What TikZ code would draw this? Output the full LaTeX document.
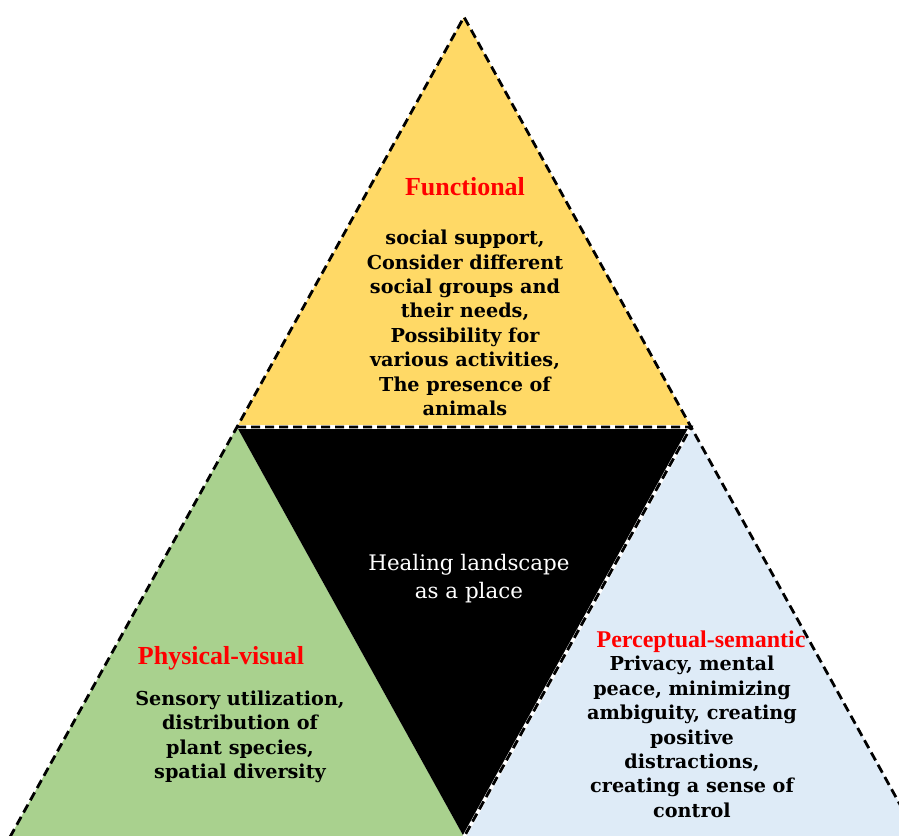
\documentclass[tikz,border=0pt]{standalone}
\usepackage{fontspec}
\setmainfont{DejaVu Serif}
\newfontfamily\headfont{Liberation Serif}
\usetikzlibrary{calc}
\definecolor{FuncFill}{RGB}{255,217,102}
\definecolor{PhysFill}{RGB}{169,209,142}
\definecolor{PercFill}{RGB}{222,235,247}
\tikzset{
    borde/.style={draw=black, line width=2.8pt, dash pattern=on 9pt off 5pt},
    bordeblanco/.style={draw=white, line width=3.6pt},
    titulo/.style={text=red, font=\headfont\bfseries\fontsize{26}{30}\selectfont},
    cuerpo/.style={align=center, font=\bfseries\fontsize{19.2}{24.4}\selectfont}
}
\begin{document}
\begin{tikzpicture}[x=1pt, y=-1pt]

    \useasboundingbox (0,0) rectangle (899,835);
    \clip (0,0) rectangle (899,835);

    % Vértices del triángulo grande
    \coordinate (T) at (464,17);
    \coordinate (L) at (10,837);
    \coordinate (R) at (918,837);
    % Puntos medios de los lados
    \coordinate (ML) at ($(T)!0.5!(L)$);
    \coordinate (MR) at ($(T)!0.5!(R)$);
    \coordinate (MB) at ($(L)!0.5!(R)$);

    % Rellenar los cuatro triángulos
    \fill[FuncFill] (T) -- (ML) -- (MR) -- cycle;
    \fill[PhysFill] (ML) -- (L) -- (MB) -- cycle;
    \fill[PercFill] (MR) -- (MB) -- (R) -- cycle;
    \fill[black] (ML) -- (MR) -- (MB) -- cycle;

    % Bordes discontinuos
    \draw[bordeblanco] (ML) -- (MR) -- (MB);
    \draw[borde] (ML) -- (MR) -- (MB);
    \draw[borde] (L) -- (T) -- (R);

    % Textos
    \node[titulo] (functional) at (465,187) {Functional};
    \node[cuerpo] (functionaltext) at (465,323) {social support,\\Consider different\\social groups and\\their needs,\\Possibility for\\various activities,\\The presence of\\animals};

    \node[titulo] (physical) at (221,658) {Physical-visual};
    \node[cuerpo] (physicaltext) at (240,737) {Sensory utilization,\\distribution of\\plant species,\\spatial diversity};

    \node[titulo, font=\headfont\bfseries\fontsize{24}{28}\selectfont] (perceptual) at (701,642) {Perceptual-semantic};
    \node[cuerpo] (perceptualtext) at (692,737) {Privacy, mental\\peace, minimizing\\ambiguity, creating\\positive\\distractions,\\creating a sense of\\control};

    \node[align=center, text=white, font=\fontsize{21.4}{28}\selectfont] (place) at (469,579) {Healing landscape\\as a place};
\end{tikzpicture}
\end{document}
